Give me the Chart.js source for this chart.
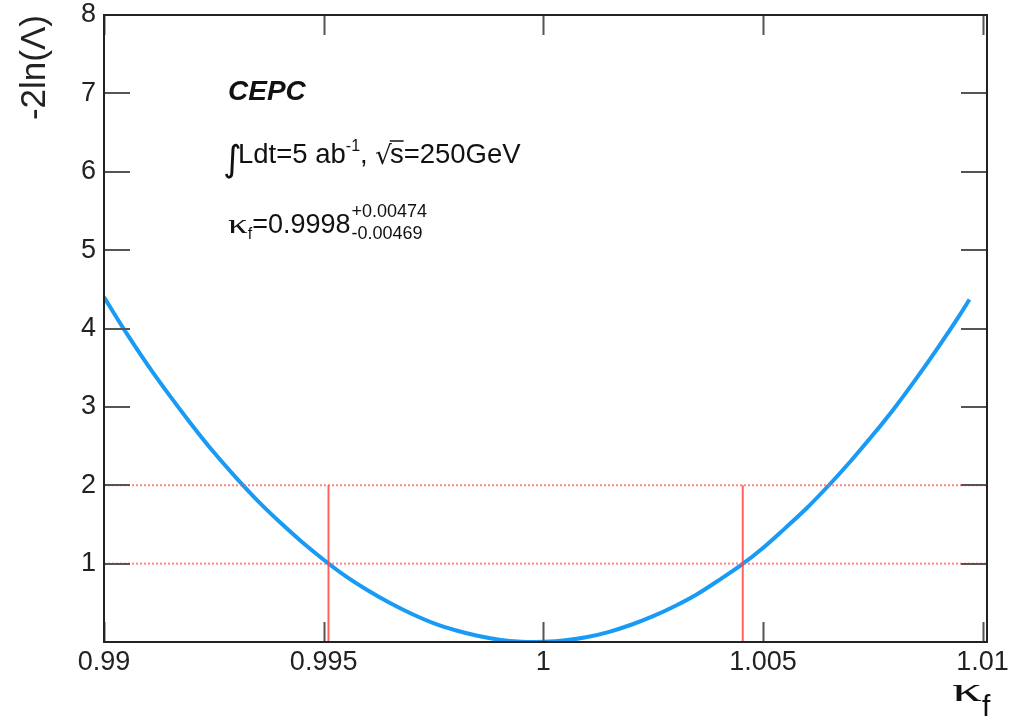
<!DOCTYPE html>
<html>
<head>
<meta charset="utf-8">
<script src="https://cdn.jsdelivr.net/npm/chart.js@4.4.1/dist/chart.umd.min.js"></script>
<style>
  html, body { margin: 0; padding: 0; background: #fff; }
  #wrap { width: 1012px; height: 721px; position: relative; }
</style>
</head>
<body>
<div id="wrap"><canvas id="c" width="1012" height="721"></canvas></div>
<script>
// ---- data ----
const kappaValues = [0.9900, 0.9905, 0.9910, 0.9915, 0.9920, 0.9925, 0.9930, 0.9935, 0.9940, 0.9945,
                     0.9950, 0.9955, 0.9960, 0.9965, 0.9970, 0.9975, 0.9980, 0.9985, 0.9990, 0.9995,
                     0.9998, 1.0000, 1.0005, 1.0010, 1.0015, 1.0020, 1.0025, 1.0030, 1.0035, 1.0040,
                     1.0045, 1.0050, 1.0055, 1.0060, 1.0065, 1.0070, 1.0075, 1.0080, 1.0085, 1.0090,
                     1.0095, 1.0097];
const nllValues   = [4.40, 3.95, 3.53, 3.14, 2.77, 2.42, 2.10, 1.80, 1.53, 1.28,
                     1.05, 0.84, 0.66, 0.50, 0.36, 0.24, 0.15, 0.08, 0.03, 0.004,
                     0.00, 0.002, 0.022, 0.064, 0.13, 0.22, 0.33, 0.46, 0.61, 0.79,
                     0.98, 1.20, 1.45, 1.71, 2.00, 2.31, 2.64, 2.99, 3.37, 3.77,
                     4.19, 4.37];
const xTicks      = [0.99, 0.995, 1, 1.005, 1.01];
const xTickLabels = ['0.99', '0.995', '1', '1.005', '1.01'];
const yTicks      = [1, 2, 3, 4, 5, 6, 7, 8];
const yTickLabels = ['1', '2', '3', '4', '5', '6', '7', '8'];
const sigmaLevels = [1, 2];
const intervalEdges = [0.99511, 1.00454];
const xRange = [0.99, 1.0101];
const yRange = [0, 8];

// ---- build datasets ----
const curve = kappaValues.map((k, i) => ({ x: k, y: nllValues[i] }));
const datasets = [{
  label: 'scan',
  data: curve,
  borderColor: 'rgb(25,155,245)',
  borderWidth: 4,
  pointRadius: 0,
  cubicInterpolationMode: 'monotone',
  order: 3
}];
sigmaLevels.forEach(l => datasets.push({
  label: 'level' + l,
  data: [{ x: xRange[0], y: l }, { x: xRange[1], y: l }],
  borderColor: 'rgba(255,90,90,0.75)',
  borderWidth: 2,
  borderDash: [2, 2],
  pointRadius: 0,
  order: 2
}));
intervalEdges.forEach(e => datasets.push({
  label: 'edge' + e,
  data: [{ x: e, y: 0 }, { x: e, y: sigmaLevels[sigmaLevels.length - 1] }],
  borderColor: 'rgba(255,70,70,0.85)',
  borderWidth: 2,
  pointRadius: 0,
  order: 1
}));

const SANS = '"Liberation Sans", Arial, Helvetica, sans-serif';
const SERIF = '"Liberation Serif", "DejaVu Serif", serif';

function wideKappa(ctx, x, y, size, sx) {
  ctx.save();
  ctx.font = size + 'px ' + SERIF;
  ctx.translate(x, y);
  ctx.scale(sx, 1);
  ctx.fillText('κ', 0, 0);
  const w = ctx.measureText('κ').width * sx;
  ctx.restore();
  return w;
}

const framePlugin = {
  id: 'rootFrame',
  afterDraw(chart) {
    const ctx = chart.ctx;
    const a = chart.chartArea;
    const xs = chart.scales.x, ys = chart.scales.y;
    ctx.save();
    // ticks
    ctx.strokeStyle = '#555';
    ctx.lineWidth = 2;
    ctx.beginPath();
    yTicks.forEach(v => {
      const y = Math.round(ys.getPixelForValue(v));
      ctx.moveTo(a.left, y); ctx.lineTo(a.left + 26, y);
      ctx.moveTo(a.right, y); ctx.lineTo(a.right - 26, y);
    });
    xTicks.forEach(v => {
      const x = Math.round(xs.getPixelForValue(v)) + 0.5;
      ctx.moveTo(x, a.bottom); ctx.lineTo(x, a.bottom - 20);
      ctx.moveTo(x, a.top); ctx.lineTo(x, a.top + 20);
    });
    ctx.stroke();
    // frame
    ctx.strokeStyle = '#222';
    ctx.lineWidth = 2;
    ctx.strokeRect(a.left, a.top, a.right - a.left, a.bottom - a.top);

    // x axis title kappa_f
    ctx.fillStyle = '#111';
    ctx.textBaseline = 'alphabetic';
    ctx.textAlign = 'left';
    let w = wideKappa(ctx, 952, 701, 34, 1.75);
    ctx.font = '30px ' + SANS;
    ctx.fillText('f', 952 + w, 716);

    // annotations
    let x = 228;
    ctx.font = 'italic bold 28px ' + SANS;
    ctx.fillText('CEPC', x, 100);

    let base = 163;
    ctx.font = '36px "DejaVu Sans", sans-serif';
    ctx.fillText('∫', 223, base + 8);
    x = 238;
    ctx.font = '27.5px ' + SANS;
    let t = 'Ldt=5 ab';
    ctx.fillText(t, x, base); x += ctx.measureText(t).width;
    ctx.font = '16px ' + SANS;
    t = '-1';
    ctx.fillText(t, x, base - 12); x += ctx.measureText(t).width;
    ctx.font = '27.5px ' + SANS;
    t = ', ';
    ctx.fillText(t, x, base); x += ctx.measureText(t).width;
    ctx.font = '26px "DejaVu Sans", sans-serif';
    t = '√';
    ctx.fillText(t, x, base + 1); x += ctx.measureText(t).width - 2;
    ctx.font = '27.5px ' + SANS;
    t = 's=250GeV';
    const sw = ctx.measureText('s').width;
    ctx.fillText(t, x, base);
    ctx.lineWidth = 1.5;
    ctx.strokeStyle = '#111';
    ctx.beginPath(); ctx.moveTo(x, base - 22); ctx.lineTo(x + sw, base - 22); ctx.stroke();

    base = 233;
    x = 228;
    x += wideKappa(ctx, x, base, 27, 1.45);
    ctx.font = '16px ' + SANS;
    t = 'f';
    ctx.fillText(t, x, base + 6); x += ctx.measureText(t).width;
    ctx.font = '27px ' + SANS;
    t = '=0.9998';
    ctx.fillText(t, x, base); x += ctx.measureText(t).width + 1;
    ctx.font = '18px ' + SANS;
    ctx.fillText('+0.00474', x, base - 16);
    ctx.fillText('-0.00469', x, base + 6);
    ctx.restore();
  }
};

new Chart(document.getElementById('c'), {
  type: 'line',
  data: { datasets },
  options: {
    responsive: false,
    animation: false,
    events: [],
    layout: { padding: { top: 15, right: 25, left: 0, bottom: 0 } },
    plugins: { legend: { display: false }, tooltip: { enabled: false } },
    scales: {
      x: {
        type: 'linear',
        min: xRange[0], max: xRange[1],
        grid: { display: false, drawTicks: false },
        border: { display: false },
        afterBuildTicks: s => { s.ticks = xTicks.map(v => ({ value: v })); },
        ticks: {
          autoSkip: false, maxRotation: 0,
          padding: 4,
          color: '#222',
          font: { family: SANS, size: 27 },
          callback: (v) => { const i = xTicks.indexOf(v); return i >= 0 ? xTickLabels[i] : ''; }
        },
        afterFit: s => { s.height = 79; s.paddingLeft = 0; s.paddingRight = 0; }
      },
      y: {
        type: 'linear',
        min: yRange[0], max: yRange[1],
        grid: { display: false, drawTicks: false },
        border: { display: false },
        afterBuildTicks: s => { s.ticks = yTicks.map(v => ({ value: v })); },
        ticks: {
          autoSkip: false,
          padding: 8,
          color: '#222',
          font: { family: SANS, size: 27 },
          callback: (v) => { const i = yTicks.indexOf(v); return i >= 0 ? yTickLabels[i] : ''; }
        },
        title: {
          display: true,
          text: '-2ln(Λ)',
          align: 'end',
          color: '#222',
          font: { family: SANS, size: 35 },
          padding: { top: 14, bottom: 0 }
        },
        afterFit: s => { s.width = 104; s.paddingTop = 0; s.paddingBottom = 0; }
      }
    }
  },
  plugins: [framePlugin]
});
</script>
</body>
</html>
